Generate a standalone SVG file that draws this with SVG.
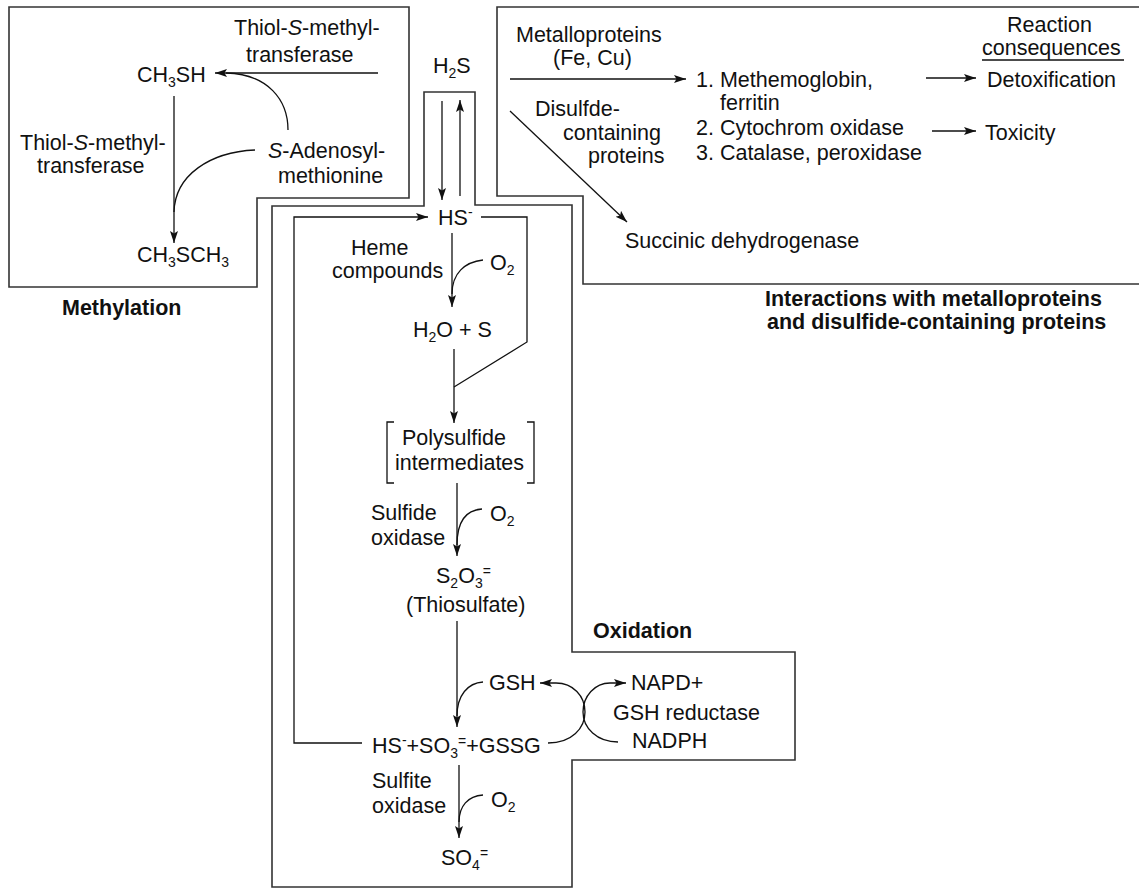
<svg xmlns="http://www.w3.org/2000/svg" width="1139" height="888" viewBox="0 0 1139 888">
<style>
text{font-family:"Liberation Sans",Arial,sans-serif;font-size:21.5px;fill:#111}
.b{font-weight:bold}
.i{font-style:italic}
.s{font-size:14px}
.box{fill:none;stroke:#333;stroke-width:1.6}
.ln{fill:none;stroke:#111;stroke-width:1.3}
.ar{marker-end:url(#ah)}
</style>
<defs>
<marker id="ah" markerUnits="userSpaceOnUse" markerWidth="14" markerHeight="10" refX="12" refY="4" orient="auto">
<path d="M0,0 L12,4 L0,8 L2.5,4 z" fill="#111"/>
</marker>
</defs>
<rect width="1139" height="888" fill="#fff"/>

<g id="methylation">
<polygon class="box" points="9,7 409,7 409,198 257,198 257,287 9,287"/>
<text x="234" y="35">Thiol-<tspan class="i">S</tspan>-methyl-</text>
<text x="246" y="62">transferase</text>
<text x="137" y="82">CH<tspan class="s" dy="5">3</tspan><tspan dy="-5">SH</tspan></text>
<text x="20" y="150">Thiol-<tspan class="i">S</tspan>-methyl-</text>
<text x="37" y="173">transferase</text>
<text x="268" y="158"><tspan class="i">S</tspan>-Adenosyl-</text>
<text x="278" y="183">methionine</text>
<text x="137" y="262">CH<tspan class="s" dy="5">3</tspan><tspan dy="-5">SCH</tspan><tspan class="s" dy="5">3</tspan></text>
<text class="b" x="62" y="315">Methylation</text>
</g>

<g id="oxidation">
<polygon class="box" points="424,92 475,92 475,205 572,205 572,652 795,652 795,760 572,760 572,887 272,887 272,206 424,206"/>
<text x="433" y="73">H<tspan class="s" dy="5">2</tspan><tspan dy="-5">S</tspan></text>
<text x="438" y="225">HS<tspan class="s" dy="-8">-</tspan></text>
<text x="351" y="255">Heme</text>
<text x="332" y="278">compounds</text>
<text x="490" y="270">O<tspan class="s" dy="5">2</tspan></text>
<text x="413" y="337">H<tspan class="s" dy="5">2</tspan><tspan dy="-5">O + S</tspan></text>
<text x="402" y="445">Polysulfide</text>
<text x="395" y="470">intermediates</text>
<text x="371" y="520">Sulfide</text>
<text x="371" y="545">oxidase</text>
<text x="490" y="521">O<tspan class="s" dy="5">2</tspan></text>
<text x="436" y="583">S<tspan class="s" dy="5">2</tspan><tspan dy="-5">O</tspan><tspan class="s" dy="5">3</tspan><tspan class="s" dy="-12">=</tspan></text>
<text x="406" y="612">(Thiosulfate)</text>
<text class="b" x="593" y="638">Oxidation</text>
<text x="489" y="690">GSH</text>
<text x="631" y="690">NAPD+</text>
<text x="613" y="720">GSH reductase</text>
<text x="632" y="748">NADPH</text>
<text x="372" y="753">HS<tspan class="s" dy="-8">-</tspan><tspan dy="8">+SO</tspan><tspan class="s" dy="5">3</tspan><tspan class="s" dy="-12">=</tspan><tspan dy="7">+GSSG</tspan></text>
<text x="372" y="788">Sulfite</text>
<text x="372" y="813">oxidase</text>
<text x="491" y="807">O<tspan class="s" dy="5">2</tspan></text>
<text x="441" y="865">SO<tspan class="s" dy="5">4</tspan><tspan class="s" dy="-12">=</tspan></text>
</g>

<g id="interactions">
<polyline class="box" points="1141,7 497,7 497,196 583,196 583,284 1141,284"/>
<text x="516" y="42">Metalloproteins</text>
<text x="553" y="65">(Fe, Cu)</text>
<text x="535" y="116">Disulfde-</text>
<text x="563" y="140">containing</text>
<text x="588" y="163">proteins</text>
<text x="696" y="87">1. Methemoglobin,</text>
<text x="720" y="110">ferritin</text>
<text x="696" y="135">2. Cytochrom oxidase</text>
<text x="696" y="160">3. Catalase, peroxidase</text>
<text x="1007" y="32">Reaction</text>
<text x="982" y="55">consequences</text>
<line x1="982" y1="60" x2="1124" y2="60" stroke="#111" stroke-width="1.6"/>
<text x="987" y="87">Detoxification</text>
<text x="985" y="140">Toxicity</text>
<text x="625" y="248">Succinic dehydrogenase</text>
<text class="b" x="765" y="306">Interactions with metalloproteins</text>
<text class="b" x="767" y="329">and disulfide-containing proteins</text>
</g>

<g id="connectors">
<line class="ln ar" x1="378" y1="73" x2="215" y2="73"/>
<path class="ln" d="M288,130 C288,100 268,74 226,73"/>
<line class="ln ar" x1="174" y1="96" x2="174" y2="243"/>
<path class="ln" d="M255,150 C210,152 175,175 174,212"/>
<line class="ln ar" x1="442" y1="101" x2="442" y2="200"/>
<line class="ln ar" x1="460" y1="196" x2="460" y2="100"/>
<polyline class="ln ar" points="362,743 294,743 294,217 428,217"/>
<polyline class="ln" points="481,217 527,217 527,342 454,387"/>
<line class="ln ar" x1="452" y1="233" x2="452" y2="307"/>
<path class="ln" d="M483,260 C465,262 452,273 452,294"/>
<line class="ln ar" x1="454" y1="349" x2="454" y2="423"/>
<path class="ln" d="M394,422 L387,422 L387,483 L394,483"/>
<path class="ln" d="M527,422 L534,422 L534,483 L527,483"/>
<line class="ln ar" x1="457" y1="483" x2="457" y2="556"/>
<path class="ln" d="M482,509 C466,510 457,522 457,545"/>
<line class="ln ar" x1="457" y1="621" x2="457" y2="727"/>
<path class="ln" d="M483,682 C468,683 457,695 457,716"/>
<path class="ln ar" d="M548,743 C572,743 585,728 585,712 C585,696 573,683 556,683 L540,683"/>
<path class="ln ar" d="M618,742 C597,742 583,728 583,712 C583,696 595,683 610,683 L626,683"/>
<line class="ln ar" x1="459" y1="765" x2="459" y2="838"/>
<path class="ln" d="M483,795 C468,796 459,806 459,822"/>
<line class="ln ar" x1="510" y1="79" x2="686" y2="79"/>
<line class="ln ar" x1="510" y1="111" x2="627" y2="222"/>
<line class="ln ar" x1="926" y1="78" x2="976" y2="78"/>
<line class="ln ar" x1="932" y1="131" x2="976" y2="131"/>
</g>
</svg>
